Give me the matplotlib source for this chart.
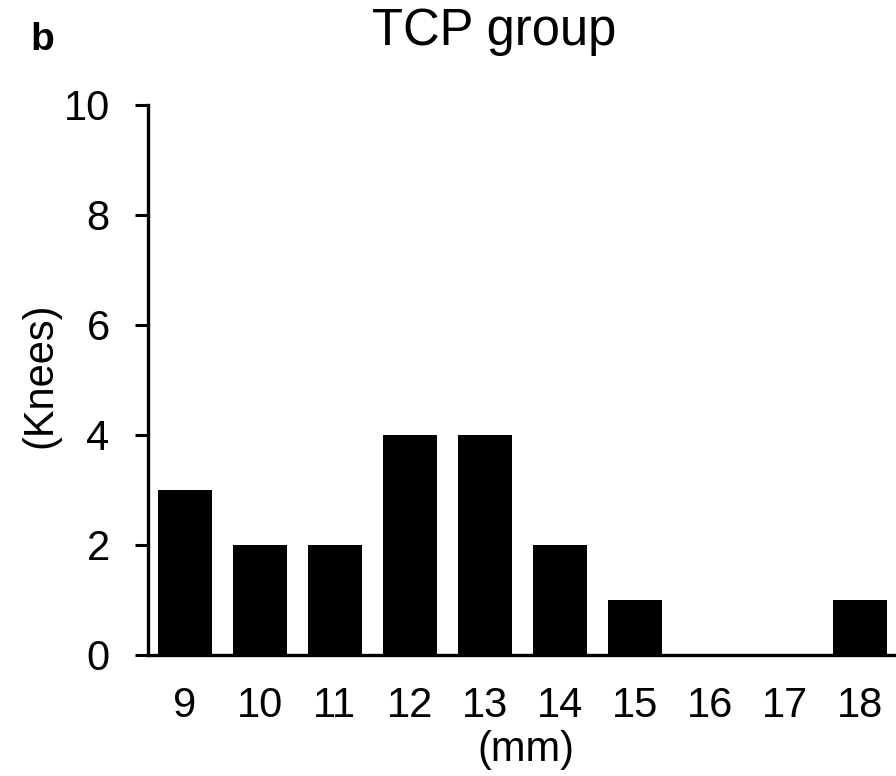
import matplotlib
matplotlib.use("Agg")
import matplotlib.pyplot as plt
import numpy as np

plt.rcParams['font.family'] = ['Liberation Sans', 'DejaVu Sans']

sizes = ['9', '10', '11', '12', '13', '14', '15', '16', '17', '18']
knees = [3, 2, 2, 4, 4, 2, 1, 0, 0, 1]
y_ticks = [0, 2, 4, 6, 8, 10]

fig = plt.figure(figsize=(8.96, 7.76), dpi=100)
ax = fig.add_axes([0.165, 0.156, 0.835, 0.709])

x = np.arange(len(sizes))
ax.bar(x, knees, width=0.72, color='black', zorder=2)

ax.set_xlim(-0.49, len(sizes) - 0.52)
ax.set_ylim(0, 10)
ax.set_yticks(y_ticks)
ax.set_xticks(x)
ax.set_xticklabels(sizes)

for side in ['top', 'right']:
    ax.spines[side].set_visible(False)
for side in ['left', 'bottom']:
    ax.spines[side].set_linewidth(2.4)
    ax.spines[side].set_zorder(3)

ax.tick_params(axis='y', length=9.5, width=2.2, pad=18, labelsize=30)
ax.tick_params(axis='x', length=0, pad=22.5, labelsize=30)

fig.text(0.045, 0.517, '(Knees)', rotation=90, ha='center', va='center', fontsize=30)
fig.text(0.587, 0.033, '(mm)', ha='center', va='center', fontsize=30)
fig.text(0.552, 0.942, 'TCP group', ha='center', va='baseline', fontsize=36.5)
fig.text(0.047, 0.948, 'b', ha='center', va='center', fontsize=28, fontweight='bold')

fig.savefig('out.png', dpi=100)
